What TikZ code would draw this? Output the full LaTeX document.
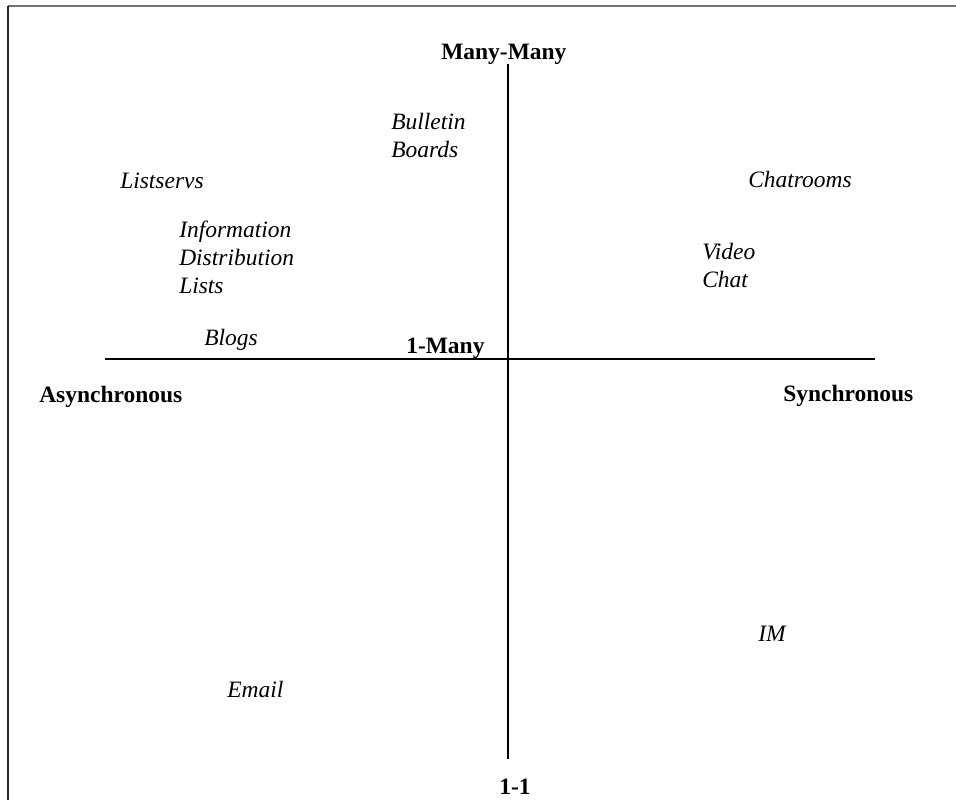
\documentclass[tikz,border=0pt]{standalone}
\usepackage{fontspec}
\setmainfont{Liberation Serif}
\usetikzlibrary{positioning}

\begin{document}
\begin{tikzpicture}[
            x=0.75pt, y=-0.75pt,
            every node/.style={inner sep=0pt},
            medium/.style={font=\fontsize{17.6}{21}\selectfont\itshape, anchor=base west, align=left},
            pole/.style={font=\fontsize{17.6}{21}\selectfont\bfseries, anchor=base west},
            axis/.style={line width=1.3pt},
        ]
            \useasboundingbox (0,0) rectangle (956,800);
            % frame
            \draw[line width=1.5pt, black!55] (8,6) -- (956,6);
            \draw[line width=1.5pt, black!85] (8,6) -- (8,800);

            % axes
            \coordinate (top) at (508,64);
            \coordinate (bottom) at (508,759);
            \coordinate (left) at (105,359);
            \coordinate (right) at (875,359);
            \draw[axis] (top) -- (bottom);
            \draw[axis] (left) -- (right);

            % poles
            \node[pole] (manymany) at (441,59) {Many-Many};
            \node[pole] (onemany) at (406,353) {1-Many};
            \node[pole] (async) at (39,402) {Asynchronous};
            \node[pole] (sync) at (783,401) {Synchronous};
            \node[pole] (oneone) at (499,794) {1-1};

            % media (base = last line)
            \node[medium] (bulletin) at (391,157) {Bulletin\\Boards};
            \node[medium] (listservs) at (120,188) {Listservs};
            \node[medium] (chatrooms) at (748,187) {Chatrooms};
            \node[medium] (infolists) at (179,293) {Information\\Distribution\\Lists};
            \node[medium] (videochat) at (702,287) {Video\\Chat};
            \node[medium] (blogs) at (204,345) {Blogs};
            \node[medium] (im) at (758,641) {IM};
            \node[medium] (email) at (227,697) {Email};
        \end{tikzpicture}
\end{document}
